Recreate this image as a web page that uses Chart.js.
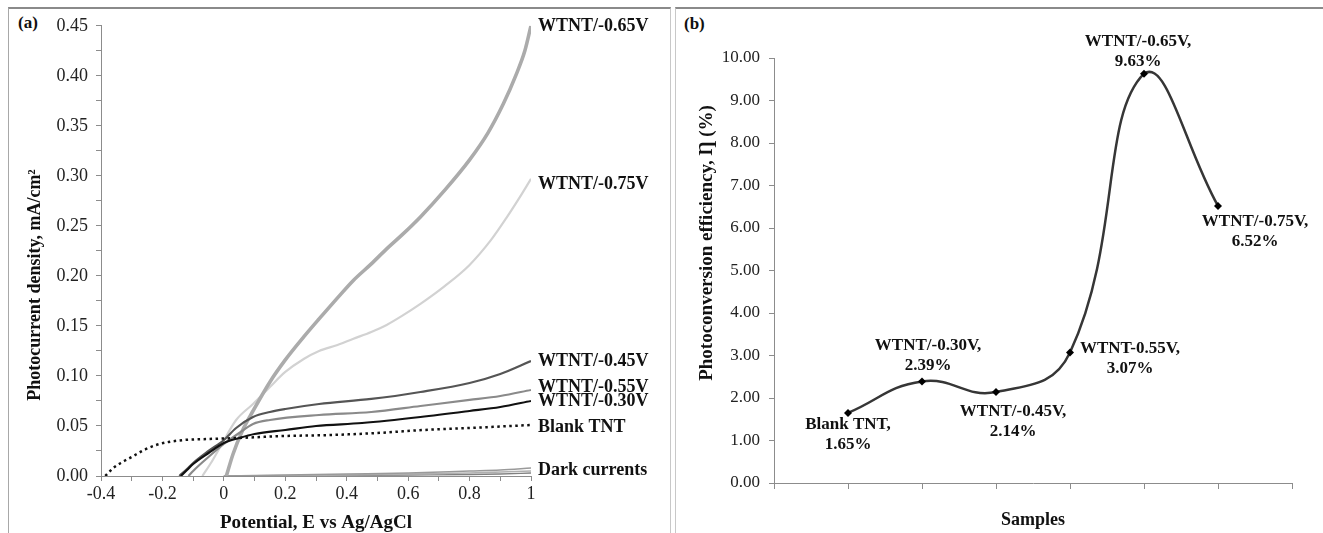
<!DOCTYPE html>
<html>
<head>
<meta charset="utf-8">
<title>Photocurrent and photoconversion efficiency</title>
<script src="https://cdn.jsdelivr.net/npm/chart.js@4.4.1/dist/chart.umd.min.js"></script>
<style>
  html, body { margin: 0; padding: 0; background: #fff; }
  body { width: 1323px; height: 533px; position: relative; overflow: hidden; font-family: "Liberation Serif", serif; }
  .panel { position: absolute; top: 7px; height: 540px; box-sizing: border-box;
           border-top: 2px solid #8a8a8a; border-left: 1px solid #a8a8a8; border-right: 1px solid #c8c8c8; }
  #panelA { left: 8px; width: 663px; }
  #panelB { left: 675px; width: 660px; border-left: 1px solid #c8c8c8; }
  .tag { position: absolute; font-weight: bold; font-size: 17px; color: #111; }
  canvas { position: absolute; }
</style>
</head>
<body>
<div class="panel" id="panelA"></div>
<div class="panel" id="panelB"></div>
<div class="tag" style="left:18px; top:13px;">(a)</div>
<div class="tag" style="left:684px; top:14px;">(b)</div>
<canvas id="chartA" width="662" height="526" style="left:8px; top:7px;"></canvas>
<canvas id="chartB" width="648" height="526" style="left:675px; top:7px;"></canvas>
<script>
// ---- Panel (a): photocurrent density vs potential ----
const blankX  = [-0.386, -0.36, -0.33, -0.30, -0.26, -0.22, -0.18, -0.13, -0.05, 0.05, 0.20, 0.35, 0.50, 0.65, 0.80, 1.00];
const blankY  = [0.000, 0.008, 0.014, 0.019, 0.026, 0.031, 0.034, 0.036, 0.037, 0.038, 0.040, 0.041, 0.043, 0.046, 0.048, 0.051];

const v030X = [-0.14, -0.12, -0.10, -0.05, 0.00, 0.05, 0.10, 0.20, 0.30, 0.45, 0.64, 0.80, 0.90, 1.00];
const v030Y = [0.000, 0.006, 0.012, 0.023, 0.033, 0.038, 0.042, 0.046, 0.050, 0.053, 0.059, 0.065, 0.069, 0.075];

const v045X = [-0.145, -0.12, -0.10, -0.05, 0.00, 0.04, 0.095, 0.15, 0.20, 0.31, 0.48, 0.64, 0.80, 0.90, 1.00];
const v045Y = [0.000, 0.007, 0.013, 0.025, 0.036, 0.048, 0.059, 0.064, 0.067, 0.072, 0.077, 0.084, 0.093, 0.102, 0.115];

const v055X = [-0.115, -0.10, -0.05, 0.00, 0.05, 0.095, 0.15, 0.31, 0.48, 0.64, 0.80, 0.90, 1.00];
const v055Y = [0.000, 0.005, 0.019, 0.032, 0.043, 0.052, 0.056, 0.061, 0.064, 0.070, 0.076, 0.080, 0.086];

const v065X = [0.008, 0.03, 0.06, 0.095, 0.15, 0.20, 0.26, 0.31, 0.37, 0.42, 0.48, 0.53, 0.58, 0.64, 0.72, 0.80, 0.86, 0.91, 0.95, 0.98, 1.00];
const v065Y = [0.000, 0.022, 0.045, 0.065, 0.094, 0.116, 0.139, 0.157, 0.178, 0.195, 0.212, 0.227, 0.241, 0.259, 0.286, 0.316, 0.343, 0.372, 0.400, 0.425, 0.450];

const v075X = [-0.07, -0.04, -0.01, 0.04, 0.095, 0.15, 0.20, 0.26, 0.31, 0.37, 0.42, 0.48, 0.53, 0.58, 0.64, 0.72, 0.80, 0.87, 0.92, 0.96, 1.00];
const v075Y = [0.000, 0.014, 0.030, 0.056, 0.072, 0.089, 0.104, 0.117, 0.125, 0.131, 0.137, 0.144, 0.151, 0.160, 0.172, 0.190, 0.211, 0.236, 0.258, 0.277, 0.297];

const darkX  = [0.00, 0.20, 0.40, 0.60, 0.80, 0.90, 1.00];
const dark1Y = [0.000, 0.001, 0.002, 0.003, 0.005, 0.006, 0.008];
const dark2Y = [0.000, 0.0005, 0.001, 0.002, 0.003, 0.004, 0.005];
const dark3Y = [0.000, 0.000, 0.0005, 0.001, 0.0015, 0.002, 0.003];

const seriesNamesA = ['Blank TNT', 'WTNT/-0.30V', 'WTNT/-0.45V', 'WTNT/-0.55V', 'WTNT/-0.65V', 'WTNT/-0.75V', 'Dark currents'];

// ---- Panel (b): photoconversion efficiency per sample ----
const samples    = ['Blank TNT', 'WTNT/-0.30V', 'WTNT/-0.45V', 'WTNT-0.55V', 'WTNT/-0.65V', 'WTNT/-0.75V'];
const efficiency = [1.65, 2.39, 2.14, 3.07, 9.63, 6.52];

const SERIF = '"Liberation Serif", "Times New Roman", serif';
const AXIS_GREY = '#8c8c8c';

function pts(xs, ys) { return xs.map((x, i) => ({ x: x, y: ys[i] })); }

function curve(label, xs, ys, color, width, extra) {
  return Object.assign({
    label: label, data: pts(xs, ys), borderColor: color, borderWidth: width,
    pointRadius: 0, cubicInterpolationMode: 'monotone', fill: false
  }, extra || {});
}

// end-of-curve labels (drawn right of the plot at each curve's last value)
const endLabels = [
  { ds: 4, text: 'WTNT/-0.65V', dy: 1 },
  { ds: 5, text: 'WTNT/-0.75V', dy: 5 },
  { ds: 2, text: 'WTNT/-0.45V', dy: 0 },
  { ds: 3, text: 'WTNT/-0.55V', dy: -3 },
  { ds: 1, text: 'WTNT/-0.30V', dy: 0 },
  { ds: 0, text: 'Blank TNT', dy: 2 },
  { ds: 6, text: 'Dark currents', dy: 2 }
];

const panelALabels = {
  id: 'panelALabels',
  afterDraw(chart) {
    const ctx = chart.ctx, ys = chart.scales.y, area = chart.chartArea;
    ctx.save();
    ctx.fillStyle = '#111';
    ctx.font = 'bold 18px ' + SERIF;
    ctx.textAlign = 'left';
    ctx.textBaseline = 'middle';
    endLabels.forEach(l => {
      const d = chart.data.datasets[l.ds].data;
      const last = d[d.length - 1];
      ctx.fillText(l.text, area.right + 7, ys.getPixelForValue(last.y) + l.dy);
    });
    // axis titles
    ctx.font = 'bold 19px ' + SERIF;
    ctx.textAlign = 'center';
    ctx.fillText('Potential, E vs Ag/AgCl', (area.left + area.right) / 2, 516);
    ctx.translate(27, 278);
    ctx.rotate(-Math.PI / 2);
    ctx.font = 'bold 18px ' + SERIF;
    ctx.fillText('Photocurrent density, mA/cm²', 0, 0);
    ctx.restore();
  }
};

new Chart(document.getElementById('chartA'), {
  type: 'line',
  data: {
    datasets: [
      curve(seriesNamesA[0], blankX, blankY, '#111', 2.5, { borderDash: [2.5, 3.5] }),
      curve(seriesNamesA[1], v030X, v030Y, '#111', 2.2),
      curve(seriesNamesA[2], v045X, v045Y, '#555', 2.2),
      curve(seriesNamesA[3], v055X, v055Y, '#8a8a8a', 2.2),
      curve(seriesNamesA[4], v065X, v065Y, '#ababab', 3.6),
      curve(seriesNamesA[5], v075X, v075Y, '#d2d2d2', 2.2),
      curve(seriesNamesA[6], darkX, dark1Y, '#9a9a9a', 1.6),
      curve(seriesNamesA[6] + ' 2', darkX, dark2Y, '#b0b0b0', 1.6),
      curve(seriesNamesA[6] + ' 3', darkX, dark3Y, '#808080', 1.4)
    ]
  },
  options: {
    responsive: false,
    animation: false,
    layout: { padding: { top: 17, right: 139, left: 0, bottom: 0 } },
    plugins: { legend: { display: false }, tooltip: { enabled: false } },
    scales: {
      x: {
        type: 'linear', min: -0.4, max: 1,
        ticks: {
          stepSize: 0.1, autoSkip: false, maxRotation: 0, padding: 2, color: '#222',
          font: { family: SERIF, size: 18 },
          callback: v => (Math.round(v * 10) % 2 === 0 ? String(Math.round(v * 10) / 10) : '')
        },
        grid: { drawOnChartArea: false, tickLength: 5, color: AXIS_GREY },
        border: { color: AXIS_GREY, width: 1 },
        afterFit: s => { s.height = 57; }
      },
      y: {
        type: 'linear', min: 0, max: 0.45,
        ticks: {
          stepSize: 0.025, autoSkip: false, padding: 8, color: '#222',
          font: { family: SERIF, size: 18 },
          callback: v => (Math.round(v * 1000) % 50 === 0 ? v.toFixed(2) : '')
        },
        grid: { drawOnChartArea: false, tickLength: 5, color: AXIS_GREY },
        border: { color: AXIS_GREY, width: 1 },
        afterFit: s => { s.width = 93; }
      }
    }
  },
  plugins: [panelALabels]
});

// label placement around each efficiency point: offset of the label centre and of its first line
const labelOffsets = [
  { dx: 0,  dy: 12 },
  { dx: 6,  dy: -36 },
  { dx: 17, dy: 20 },
  { dx: 60, dy: -4 },
  { dx: -6, dy: -32 },
  { dx: 37, dy: 16 }
];

const panelBLabels = {
  id: 'panelBLabels',
  afterDraw(chart) {
    const ctx = chart.ctx, area = chart.chartArea;
    const meta = chart.getDatasetMeta(0);
    ctx.save();
    ctx.fillStyle = '#111';
    ctx.font = 'bold 17px ' + SERIF;
    ctx.textAlign = 'center';
    ctx.textBaseline = 'middle';
    meta.data.forEach((pt, i) => {
      const o = labelOffsets[i];
      ctx.fillText(samples[i] + ',', pt.x + o.dx, pt.y + o.dy);
      ctx.fillText(efficiency[i].toFixed(2) + '%', pt.x + o.dx, pt.y + o.dy + 20);
    });
    ctx.font = 'bold 18px ' + SERIF;
    ctx.fillText('Samples', (area.left + area.right) / 2, 513);
    ctx.translate(32, 236);
    ctx.rotate(-Math.PI / 2);
    ctx.font = 'bold 19px ' + SERIF;
    ctx.fillText('Photoconversion efficiency, Ƞ (%)', 0, 0);
    ctx.restore();
  }
};

new Chart(document.getElementById('chartB'), {
  type: 'line',
  data: {
    datasets: [{
      label: 'Photoconversion efficiency',
      data: efficiency.map((v, i) => ({ x: i + 1, y: v })),
      borderColor: '#363636', borderWidth: 2.5, tension: 0.45,
      pointStyle: 'rectRot', pointRadius: 4, pointBackgroundColor: '#000', pointBorderColor: '#000', pointBorderWidth: 0
    }]
  },
  options: {
    responsive: false,
    animation: false,
    layout: { padding: { top: 51, right: 31, left: 0, bottom: 0 } },
    plugins: { legend: { display: false }, tooltip: { enabled: false } },
    scales: {
      x: {
        type: 'linear', min: 0, max: samples.length + 1,
        ticks: { stepSize: 1, autoSkip: false, callback: () => '' },
        grid: { drawOnChartArea: false, tickLength: 6, color: AXIS_GREY },
        border: { color: AXIS_GREY, width: 1 },
        afterFit: s => { s.height = 50; }
      },
      y: {
        type: 'linear', min: 0, max: 10,
        ticks: {
          stepSize: 1, padding: 9, color: '#222',
          font: { family: SERIF, size: 17 },
          callback: v => v.toFixed(2)
        },
        grid: { drawOnChartArea: false, tickLength: 5, color: AXIS_GREY },
        border: { color: AXIS_GREY, width: 1 },
        afterFit: s => { s.width = 99; }
      }
    }
  },
  plugins: [panelBLabels]
});
</script>
</body>
</html>
